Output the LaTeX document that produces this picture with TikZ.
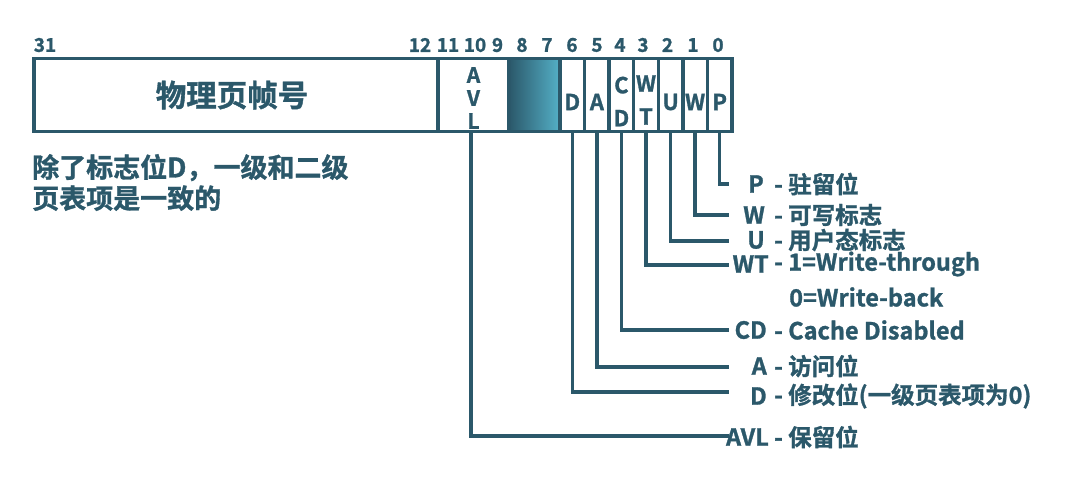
\documentclass[tikz,border=0pt]{standalone}
\usepackage{fontspec}
\setmainfont{Noto Sans CJK SC Bold}[FakeBold=1.2]
\definecolor{ink}{RGB}{43,88,106}
\definecolor{lightc}{RGB}{84,176,199}
\begin{document}
\begin{tikzpicture}[x=1pt,y=-1pt,
  cell/.style={draw=ink, line width=3.3pt, inner sep=0pt, minimum height=73pt, minimum width=24.57pt, anchor=center},
  ctxt/.style={text=ink, inner sep=0pt, font=\fontsize{22}{33}\selectfont, align=center},
  bitno/.style={text=ink, inner sep=0pt, font=\fontsize{19}{19}\selectfont},
  key/.style={text=ink, inner sep=0pt, anchor=east, font=\fontsize{23.5}{30}\selectfont},
  desc/.style={text=ink, inner sep=0pt, anchor=west, font=\fontsize{23.5}{30}\selectfont},
  wire/.style={draw=ink, line width=3.3pt}]
\useasboundingbox (0,0) rectangle (1086,486);
% register cells
\node[cell, minimum width=404pt] (pfn) at (236,95) {};
\node[cell, minimum width=71pt] (avl) at (473.5,95) {};
\node[cell, minimum width=51pt, left color=ink, right color=lightc] (res) at (534.5,95) {};
\node[cell] (cD) at (572.3,95) {};
\node[cell] (cA) at (596.9,95) {};
\node[cell] (cCD) at (621.4,95) {};
\node[cell] (cWT) at (646,95) {};
\node[cell] (cU) at (670.6,95) {};
\node[cell] (cW) at (695.1,95) {};
\node[cell] (cP) at (719.7,95) {};
% cell texts
\node[ctxt, font=\fontsize{30.5}{30}\selectfont] (pfnt) at (232,95) {物理页帧号};
\node[ctxt, font=\fontsize{21}{23}\selectfont] (avlt) at (473.5,98) {A\\V\\L};
\node[ctxt] (tD) at (572.3,102) {D};
\node[ctxt] (tA) at (596.9,102) {A};
\node[ctxt] (tCD) at (621.4,101.5) {C\\D};
\node[ctxt] (tWT) at (646,100) {W\\T};
\node[ctxt] (tU) at (670.6,102) {U};
\node[ctxt] (tW) at (695.1,102) {W};
\node[ctxt] (tP) at (719.7,102) {P};
% bit numbers
\node[bitno] (b31) at (45,45) {31};
\node[bitno] (b12) at (420,45) {12};
\node[bitno] (b11) at (448,45) {11};
\node[bitno] (b10) at (475,45) {10};
\node[bitno] (b9) at (497.5,45) {9};
\node[bitno] (b8) at (522,45) {8};
\node[bitno] (b7) at (547,45) {7};
\node[bitno] (b6) at (572,45) {6};
\node[bitno] (b5) at (597,45) {5};
\node[bitno] (b4) at (620,45) {4};
\node[bitno] (b3) at (643,45) {3};
\node[bitno] (b2) at (667.5,45) {2};
\node[bitno] (b1) at (693,45) {1};
\node[bitno] (b0) at (718,45) {0};
% note
\node[text=ink, inner sep=0pt, anchor=west, align=left, font=\fontsize{27}{31}\selectfont] (note) at (32,182.5) {除了标志位D，一级和二级\\页表项是一致的};
% connector ends
\coordinate (eP) at (729,184);
\coordinate (eW) at (729,215);
\coordinate (eU) at (729,241);
\coordinate (eWT) at (729,265);
\coordinate (eCD) at (729,330);
\coordinate (eA) at (729,367);
\coordinate (eD) at (729,392);
\coordinate (eAVL) at (729,436);
\draw[wire] (cP.south) |- (eP);
\draw[wire] (cW.south) |- (eW);
\draw[wire] (cU.south) |- (eU);
\draw[wire] (cWT.south) |- (eWT);
\draw[wire] (cCD.south) |- (eCD);
\draw[wire] (cA.south) |- (eA);
\draw[wire] (cD.south) |- (eD);
\draw[wire] ([xshift=-2.5pt]avl.south) |- (eAVL);
% labels
\node[key] (kP) at (764,184) {P};
\node[desc] (dP) at (774,184) {- 驻留位};
\node[key] (kW) at (765,215) {W};
\node[desc] (dW) at (774,215) {- 可写标志};
\node[key] (kU) at (765,240) {U};
\node[desc] (dU) at (774,240) {- 用户态标志};
\node[key] (kWT) at (769,264) {WT};
\node[desc] (dWT) at (774,264) {- 1=Write-through};
\node[desc] (dWB) at (789,297) {0=Write-back};
\node[key] (kCD) at (767,330) {CD};
\node[desc] (dCD) at (774,330) {- Cache Disabled};
\node[key] (kA) at (767,366) {A};
\node[desc] (dA) at (774,366) {- 访问位};
\node[key] (kD) at (767,396) {D};
\node[desc] (dD) at (774,396) {- 修改位(一级页表项为0)};
\node[key] (kAVL) at (769,437) {AVL};
\node[desc] (dAVL) at (774,437) {- 保留位};
\end{tikzpicture}
\end{document}
